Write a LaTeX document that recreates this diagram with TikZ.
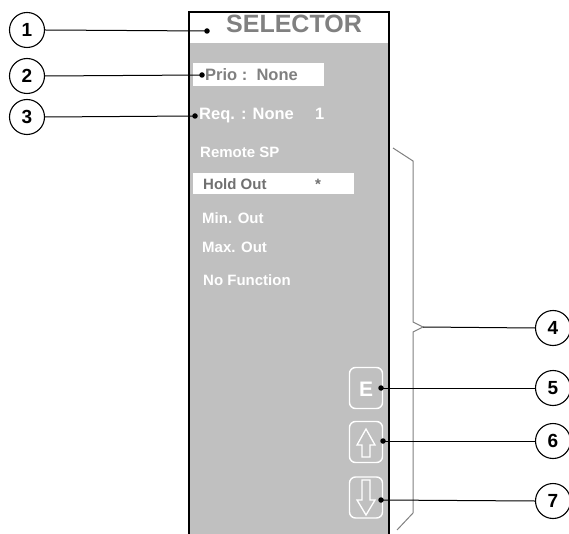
\documentclass[tikz,border=0pt]{standalone}
\usepackage{fontspec}
\setmainfont{Liberation Sans}
\definecolor{panelgray}{HTML}{C0C0C0}
\definecolor{titlegray}{HTML}{808080}
\definecolor{holdgray}{HTML}{707070}
\definecolor{bracegray}{HTML}{808080}
\begin{document}
\begin{tikzpicture}[x=1pt,y=-1pt,
 lbl/.style={circle,draw=black,line width=1.1pt,minimum size=35pt,inner sep=0pt,fill=white,font=\fontsize{19}{19}\selectfont\bfseries},
 conn/.style={draw=black,line width=1pt},
 blt/.style={circle,fill=black,inner sep=0pt,minimum size=5.5pt},
 item/.style={anchor=base west,inner sep=0pt,font=\fontsize{15}{15}\selectfont\bfseries,text=white},
 hdr/.style={anchor=base west,inner sep=0pt,font=\fontsize{16.5}{16.5}\selectfont\bfseries},
 btn/.style={draw=white,line width=1.4pt,rounded corners=6pt,minimum width=33pt,minimum height=41pt,inner sep=0pt},
 arr/.style={draw=white,line width=1.3pt,line join=miter},
 brc/.style={draw=bracegray,line width=1pt}]
\useasboundingbox (0,0) rectangle (569,534);
% panel
\fill[panelgray] (189,12) rectangle (389,534);
\fill[white] (190,13) rectangle (388,43);
\draw[line width=2pt] (189,534) -- (189,12) -- (389,12) -- (389,534);
\node[anchor=base,inner sep=0pt,text=titlegray,font=\fontsize{25}{25}\selectfont\bfseries] (title) at (294,32.5) {SELECTOR};
% prio box
\fill[white] (193,63) rectangle (324,86);
\node[hdr,text=titlegray] (prio) at (205,81) {Prio :\ \ None};
\node[hdr,text=white] (req) at (199,120) {Req. : None};
\node[hdr,text=white,anchor=base west] (reqn) at (315,120) {1};
% items
\node[item] (remote) at (200,158) {Remote SP};
\fill[white] (193,173) rectangle (354,194);
\node[item,text=holdgray] (hold) at (203,190) {Hold Out};
\node[item,text=holdgray] (star) at (315,190) {*};
\node[item] (minout) at (202,224) {Min. Out};
\node[item] (maxout) at (202,252) {Max. Out};
\node[item] (nofunc) at (203,285) {No Function};
% buttons
\node[btn] (ebtn) at (366,388) {};
\node[anchor=center,inner sep=0pt,text=white,font=\fontsize{21}{21}\selectfont\bfseries] (etxt) at (366,389) {E};
\node[btn] (upbtn) at (366,442) {};
\node[btn] (dnbtn) at (366,497.5) {};
\draw[arr] (366,429) -- (375,445) -- (370,445) -- (370,457) -- (362,457) -- (362,445) -- (357,445) -- cycle;
\draw[arr] (366,515) -- (375,500) -- (370,500) -- (370,480) -- (362,480) -- (362,500) -- (357,500) -- cycle;
% brace
\coordinate (btip) at (423,327);
\draw[brc] (393,148) -- (413,161) -- (413,322) -- (btip) -- (413,332) -- (413,513) -- (397,530);
% bullets
\node[blt] (b1) at (207,31) {};
\node[blt] (b2) at (202,75) {};
\node[blt] (b3) at (195,116) {};
\node[blt] (b5) at (381,388) {};
\node[blt] (b6) at (383,441) {};
\node[blt] (b7) at (381,500) {};
% label circles
\node[lbl] (c1) at (27,30) {1};
\node[lbl] (c2) at (27,76) {2};
\node[lbl] (c3) at (27,117) {3};
\node[lbl] (c4) at (553,328) {4};
\node[lbl] (c5) at (553,388) {5};
\node[lbl] (c6) at (553,441) {6};
\node[lbl] (c7) at (553,501) {7};
% connectors
\draw[conn] (c1.east) -- (b1.center);
\draw[conn] (c2.east) -- (b2.center);
\draw[conn] (c3.east) -- (b3.center);
\draw[conn] (c4.west) -- (btip);
\draw[conn] (c5.west) -- (b5.center);
\draw[conn] (c6.west) -- (b6.center);
\draw[conn] (c7.west) -- (b7.center);
\end{tikzpicture}
\end{document}
